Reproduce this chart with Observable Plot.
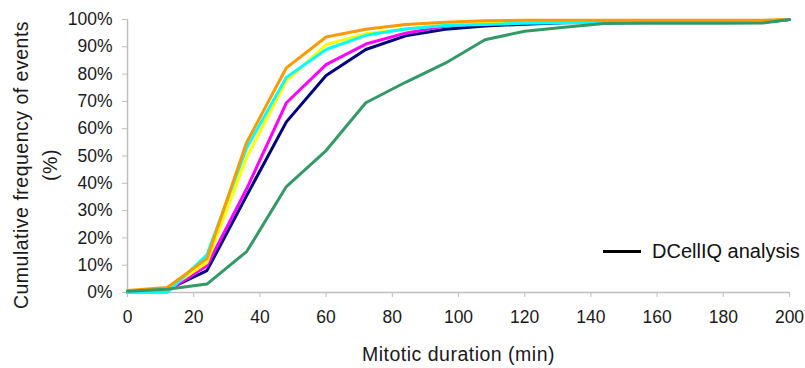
<!DOCTYPE html>
<html><head><meta charset="utf-8">
<script src="https://cdn.jsdelivr.net/npm/d3@7"></script>
<script src="https://cdn.jsdelivr.net/npm/@observablehq/plot@0.6"></script>
<style>
body{margin:0;background:#fff;}
#wrap{position:relative;width:805px;height:368px;font-family:"Liberation Sans",Arial,sans-serif;}
#wrap svg{position:absolute;left:0;top:0;}
#legend{position:absolute;left:603px;top:241px;display:flex;align-items:center;font-size:20px;line-height:20px;color:#111;z-index:2;}
#legend .sw{display:inline-block;width:38px;height:3px;background:#000;margin-right:11px;}
</style></head><body>
<div id="wrap"><div id="legend"><span class="sw"></span><span>DCellIQ analysis</span></div></div>
<script>
const minutes = [0,12,24,36,48,60,72,84,96,108,120,132,144,156,168,180,192,200];
const navy    = [0,1.0,8.0,35.5,62.5,79.5,89.0,94.0,96.4,97.6,98.3,98.8,99.0,99.0,99.0,99.0,99.0,100];
const magenta = [0,0.5,9.8,38.0,69.5,83.5,91.0,95.0,97.6,98.5,99.0,99.3,99.3,99.3,99.3,99.3,99.3,100];
const yellow  = [0,1.2,11.0,49.5,77.5,90.8,94.8,96.5,98.0,98.7,99.2,99.5,99.5,99.5,99.5,99.5,99.5,100];
const cyan    = [0,0,13.8,53.0,78.8,89.0,94.2,96.5,97.8,98.2,98.6,98.8,99.0,99.0,99.0,99.0,99.0,100];
const orange  = [0.7,1.8,12.4,55.0,82.3,93.6,96.4,98.2,99.0,99.5,99.7,99.7,99.7,99.7,99.7,99.7,99.7,100];
const green   = [0.5,1.2,3.1,15.0,38.8,52.0,69.5,77.0,84.0,92.6,95.7,97.2,98.5,98.6,98.6,98.6,98.7,100];
const xTicks = [0,20,40,60,80,100,120,140,160,180,200];
const yTicks = [0,10,20,30,40,50,60,70,80,90,100];
const xLabel = "Mitotic duration (min)";
const yLabel = "Cumulative frequency of events\n(%)";

const series = [
  {v: navy, c: "#000080"},
  {v: magenta, c: "#ff00ff"},
  {v: yellow, c: "#ffff00"},
  {v: cyan, c: "#00ffff"},
  {v: orange, c: "#ff9900"},
  {v: green, c: "#339966"}
];
const axisGray = "#bfbfbf";
const chart = Plot.plot({
  width: 805, height: 368,
  marginLeft: 127, marginRight: 16, marginTop: 19, marginBottom: 76,
  style: {fontFamily: '"Liberation Sans", Arial, sans-serif', fontSize: "17.5px", background: "#fff", color: "#1a1a1a"},
  x: {domain: [0, 200]},
  y: {domain: [0, 100]},
  marks: [
    Plot.axisX({ticks: xTicks, tickSize: 5, tickPadding: 13, stroke: axisGray, fill: "#1a1a1a", label: null, tickFormat: d => String(d)}),
    Plot.axisY({ticks: yTicks, tickSize: 5, tickPadding: 10, stroke: axisGray, fill: "#1a1a1a", label: null, tickFormat: d => d + "%"}),
    Plot.ruleX([0], {stroke: axisGray, strokeWidth: 1.5}),
    Plot.ruleY([0], {stroke: axisGray, strokeWidth: 1.5}),
    ...series.map(s => Plot.line(s.v, {x: (d, i) => minutes[i], y: d => d, stroke: s.c, strokeWidth: 3, strokeLinejoin: "round"})),
    Plot.text([xLabel], {text: d => d, frameAnchor: "bottom", textAnchor: "middle", lineAnchor: "middle", dy: 62, fontSize: 19.5, fill: "#1a1a1a"}),
    Plot.text([yLabel], {text: d => d, frameAnchor: "left", textAnchor: "middle", lineAnchor: "middle", rotate: -90, dx: -94, dy: 9, fontSize: 19.5, lineHeight: 1.5, fill: "#1a1a1a"})
  ]
});
d3.select(chart).selectAll("text").filter(function(){ return /Mitotic|Cumulative/.test(this.textContent); }).style("letter-spacing", "0.5px");
document.getElementById("wrap").prepend(chart);
</script>
</body></html>
